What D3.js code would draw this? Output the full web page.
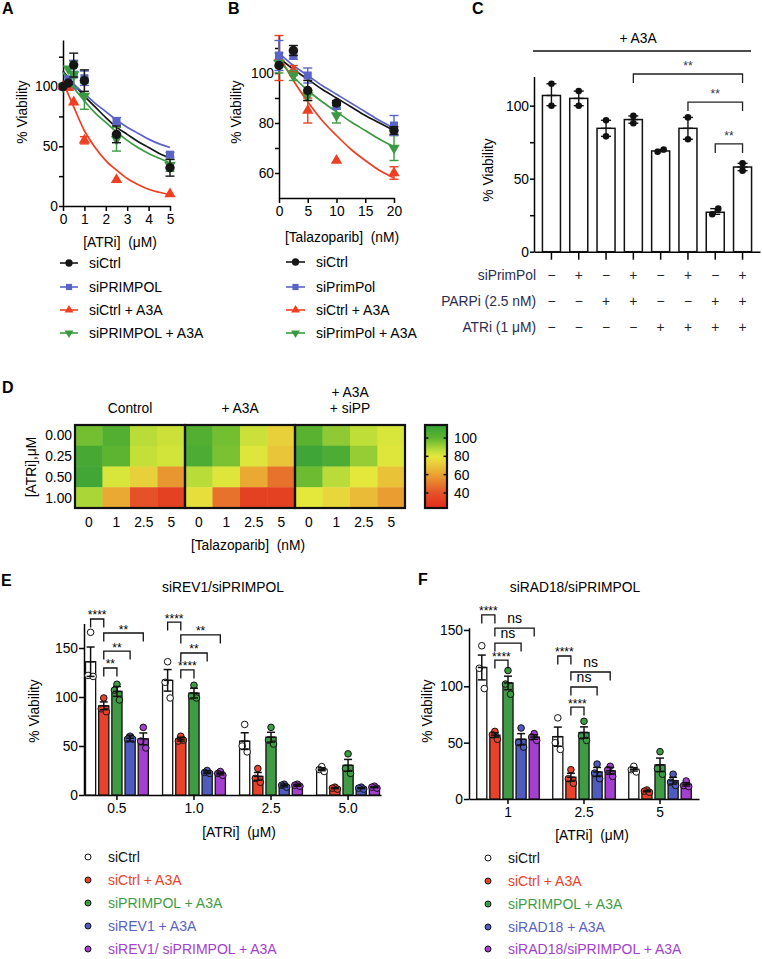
<!DOCTYPE html>
<html><head><meta charset="utf-8">
<script src="https://cdn.jsdelivr.net/npm/d3@7/dist/d3.min.js"></script>
<style>
html,body{margin:0;padding:0;background:#fff;}
text{white-space:pre;}
</style></head><body>
<script>
// ================= DATA =================
// ---- Panel A : ATRi dose response
const aDose = [0, 0.25, 0.5, 1, 2.5, 5];
const aLabels = ["siCtrl", "siPRIMPOL", "siCtrl + A3A", "siPRIMPOL + A3A"];
const aCtrl = [100, 103, 118, 105, 60, 32];
const aCtrlErr = [0, 1, 10, 9, 7, 7];
const aPrim = [100, 106, 110, 107, 71, 43];
const aPrimErr = [0, 2, 12, 6, 3, 2];
const aCtrlA3A = [100, 99, 87, 55, 22, 10];
const aCtrlA3AErr = [0, 0, 0, 3, 0, 0];
const aPrimA3A = [100, 115, 110, 92, 56, 34];
const aPrimA3AErr = [0, 0, 11, 11, 10, 5];
const aFitDose = [0, 0.5, 1, 1.5, 2, 2.5, 3, 3.5, 4, 4.5, 5];
const aFitCtrl = [113, 102, 92, 83, 74, 66, 60, 54, 49, 44, 40];
const aFitPrim = [112, 102, 94, 86, 79, 72, 66, 61, 56, 52, 49];
const aFitCtrlA3A = [104, 83, 63, 49, 38, 30, 23, 18, 14, 11.5, 9.5];
const aFitPrimA3A = [112, 99, 88, 78, 70, 62, 55, 49, 44, 40, 36];
const aXTicks = [0, 1, 2, 3, 4, 5];
const aYTicks = [0, 50, 100];
const aYMinor = [25, 75, 125];

// ---- Panel B : Talazoparib dose response
const bDose = [0, 2.5, 5, 10, 20];
const bLabels = ["siCtrl", "siPrimPol", "siCtrl + A3A", "siPrimPol + A3A"];
const bCtrl = [103, 109, 93, 88, 77];
const bCtrlErr = [0, 2, 4, 1, 1.5];
const bPrim = [107, 107, 99, 87, 79];
const bPrimErr = [6, 1.5, 3, 1.5, 4];
const bCtrlA3A = [106, 101, 85, 65, 60];
const bCtrlA3AErr = [9, 2, 5, 0, 2.5];
const bPrimA3A = [104, 99, 91, 83, 70];
const bPrimA3AErr = [4, 2, 2, 3, 5];
const bFitDose = [0, 2.5, 5, 7.5, 10, 12.5, 15, 17.5, 20];
const bFitCtrl = [106, 101.5, 97.5, 93.5, 90, 86.5, 83, 80, 77];
const bFitPrim = [108, 103, 99, 95, 91.5, 88, 84.5, 81, 78];
const bFitCtrlA3A = [107, 97, 88.5, 81, 75, 69.5, 65, 61, 58];
const bFitPrimA3A = [105, 98.5, 93, 88.5, 84.5, 80.5, 77, 73.5, 70.5];
const bXTicks = [0, 5, 10, 15, 20];
const bYTicks = [60, 80, 100];
const bYMinor = [70, 90, 110];

// ---- Panel C : bar chart + A3A
const cMeans = [107, 105, 84.5, 90.5, 69, 84.5, 27, 58];
const cPoints = [[115, 100], [110, 100], [90, 79], [93, 88], [68.5, 70], [92, 77], [25.6, 29.5], [60.5, 55.5]];
const cRowLabels = ["siPrimPol", "PARPi (2.5 nM)", "ATRi (1 μM)"];
const cSiPrimPol = ["−", "+", "−", "+", "−", "+", "−", "+"];
const cPARPi = ["−", "−", "+", "+", "−", "−", "+", "+"];
const cATRi = ["−", "−", "−", "−", "+", "+", "+", "+"];
const cYTicks = [0, 50, 100];
const cYMinor = [25, 75];
const cBrackets = [[3, 7, "**"], [5, 7, "**"], [6, 7, "**"]];
const cBracketLevel = [121.7, 102.5, 73.8];

// ---- Panel D : heatmap
const dAtri = ["0.00", "0.25", "0.50", "1.00"];
const dTalaz = ["0", "1", "2.5", "5"];
const dBlocks = ["Control", "+ A3A", "+ A3A + siPP"];
const dHeaders = [["Control"], ["+ A3A"], ["+ A3A", "+ siPP"]];
const dControl = [[97, 104, 87, 84], [108, 101, 85, 83], [110, 82, 73, 57], [89, 62, 40, 33]];
const dA3A = [[104, 97, 84, 73], [106, 96, 81, 70], [87, 81, 62, 48], [77, 48, 33, 33]];
const dA3ASiPP = [[102, 93, 86, 82], [111, 106, 92, 81], [98, 87, 80, 69], [80, 75, 67, 59]];
const dBarTicks = [100, 80, 60, 40];
const dStops = [24, 30, 40, 50, 60, 71, 80, 87, 100, 114];
const dColors = ["#e2301f", "#e3381f", "#e5522a", "#e77a2c", "#e9a231", "#e9c93a", "#e4e83b", "#b9dc38", "#5fb52f", "#35a038"];

// ---- Panel E : siREV1/siPRIMPOL
const eDoses = ["0.5", "1.0", "2.5", "5.0"];
const eSeries = ["siCtrl", "siCtrl + A3A", "siPRIMPOL + A3A", "siREV1 + A3A", "siREV1/ siPRIMPOL + A3A"];
const eCtrl = [136, 117, 55, 26.3];
const eCtrlErr = [15, 11, 8.5, 1.5];
const eCtrlPts = [[166, 122, 121], [136, 115, 99], [72, 50, 44], [29, 26, 24]];
const eCtrlA3A = [91, 57, 19, 7];
const eCtrlA3AErr = [4, 2, 4, 0.6];
const eCtrlA3APts = [[99, 88, 85], [60, 55, 56], [27, 17, 13], [8, 7, 6]];
const ePrimA3A = [105.7, 104, 59, 30.3];
const ePrimA3AErr = [5, 5, 5, 6];
const ePrimA3APts = [[113, 107, 97], [112, 101, 99], [69, 56, 52], [42, 27, 22]];
const eRevA3A = [58, 23.3, 9.7, 7];
const eRevA3AErr = [3, 1.5, 1.5, 0.6];
const eRevA3APts = [[60, 57, 57], [25, 23, 22], [11, 10, 8], [8, 7, 6]];
const eRevPrimA3A = [57.3, 22, 10, 8];
const eRevPrimA3AErr = [6, 1.5, 1, 0.6];
const eRevPrimA3APts = [[69, 55, 48], [24, 22, 20], [11, 10, 9], [9, 8, 7]];
const eYTicks = [0, 50, 100, 150];
const eBrackets = [["0.5", 0, 1, "****"], ["0.5", 1, 4, "**"], ["0.5", 1, 3, "**"], ["0.5", 1, 2, "**"],
                   ["1.0", 0, 1, "****"], ["1.0", 1, 4, "**"], ["1.0", 1, 3, "**"], ["1.0", 1, 2, "****"]];
const eBracketLevel = [179.6, 165.3, 146.9, 129.6, 176.5, 163.3, 144.9, 127.6];

// ---- Panel F : siRAD18/siPRIMPOL
const fDoses = ["1", "2.5", "5"];
const fSeries = ["siCtrl", "siCtrl + A3A", "siPRIMPOL + A3A", "siRAD18 + A3A", "siRAD18/siPRIMPOL + A3A"];
const fCtrl = [116.7, 55.3, 26.3];
const fCtrlErr = [11, 8.5, 1.5];
const fCtrlPts = [[136, 116, 98], [72, 50, 44], [29, 26, 24]];
const fCtrlA3A = [56.7, 19.3, 7];
const fCtrlA3AErr = [2, 3.5, 0.6];
const fCtrlA3APts = [[60, 57, 53], [26, 18, 14], [8, 7, 6]];
const fPrimA3A = [103, 59, 30.3];
const fPrimA3AErr = [6, 5, 6];
const fPrimA3APts = [[114, 102, 93], [69, 56, 52], [42, 27, 22]];
const fRadA3A = [53, 24, 16.3];
const fRadA3AErr = [5, 4, 3];
const fRadA3APts = [[63, 50, 46], [31, 23, 18], [22, 15, 12]];
const fRadPrimA3A = [55, 25, 13];
const fRadPrimA3AErr = [2, 3, 1.5];
const fRadPrimA3APts = [[58, 55, 52], [29, 26, 20], [16, 12, 11]];
const fYTicks = [0, 50, 100, 150];
const fBrackets = [["1", 0, 1, "****"], ["1", 1, 4, "ns"], ["1", 1, 3, "ns"], ["1", 1, 2, "****"],
                   ["2.5", 0, 1, "****"], ["2.5", 1, 4, "ns"], ["2.5", 1, 3, "ns"], ["2.5", 1, 2, "****"]];
const fBracketLevel = [163.3, 151.7, 138.4, 123.3, 126.9, 112.7, 99.4, 81.6];

// ================= DRAWING =================
const FONT = '"Liberation Sans", Arial, Helvetica, sans-serif';
const BLACK = "#161616", BLUE = "#5a63c8", RED = "#ee3f23", GREEN = "#3b9a41";
const barColors = ["#ffffff", "#e8432a", "#3f9c45", "#4f5bbf", "#a43fcf"];
const legColors = ["#111111", "#e8432a", "#3f9c45", "#5a5fc4", "#a43fcf"];

const svg = d3.select("body").append("svg").attr("width", 762).attr("height", 959)
  .style("font-family", FONT);

function styleAxis(g, sw = 1.5, fs = 13.8) {
  g.attr("font-size", fs).attr("font-family", FONT);
  g.select(".domain").attr("stroke", "#000").attr("stroke-width", sw);
  g.selectAll(".tick line").attr("stroke", "#000").attr("stroke-width", sw);
  g.selectAll(".tick text").attr("fill", "#000");
}
function txt(x, y, s, opt = {}) {
  const t = svg.append("text").attr("x", x).attr("y", y).text(s)
    .attr("font-size", opt.size || 13.8).attr("fill", opt.fill || "#000")
    .attr("text-anchor", opt.anchor || "start");
  if (opt.bold) t.attr("font-weight", "bold");
  return t;
}
function vlabel(x, y, s, size = 13.8) {
  svg.append("text").attr("transform", `translate(${x},${y}) rotate(-90)`)
    .attr("text-anchor", "middle").attr("font-size", size).text(s);
}
function letter(s, x, y) { txt(x, y, s, { size: 16, bold: true }); }

function yAxis(x0, y, major, minor, size = 4, pad = 1) {
  const g = svg.append("g").attr("transform", `translate(${x0},0)`)
    .call(d3.axisLeft(y).tickValues(major).tickFormat(d => String(d)).tickSize(size).tickPadding(pad).tickSizeOuter(0));
  styleAxis(g);
  if (minor) {
    const gm = svg.append("g").attr("transform", `translate(${x0},0)`)
      .call(d3.axisLeft(y).tickValues(minor).tickSize(size).tickFormat("").tickSizeOuter(0));
    gm.select(".domain").remove(); styleAxis(gm);
  }
}

const symPath = (type, size) => d3.symbol().type(type).size(size)();

// ---------- dose response panels ----------
function doseResponse(cfg) {
  const x = d3.scaleLinear().domain(cfg.xDomain).range(cfg.xRange);
  const y = d3.scaleLinear().domain(cfg.yDomain).range(cfg.yRange);
  yAxis(cfg.xRange[0], y, cfg.yTicks, cfg.yMinor);
  const gx = svg.append("g").attr("transform", `translate(0,${cfg.yRange[0]})`)
    .call(d3.axisBottom(x).tickValues(cfg.xTicks).tickFormat(d => String(d)).tickSize(5).tickPadding(3).tickSizeOuter(0));
  styleAxis(gx);
  const line = d3.line().x(d => x(d[0])).y(d => y(d[1])).curve(d3.curveMonotoneX);
  cfg.series.forEach(s => {
    svg.append("path").datum(d3.zip(cfg.fitX, s.fit)).attr("d", line)
      .attr("fill", "none").attr("stroke", s.color).attr("stroke-width", 1.7);
  });
  cfg.drawOrder.forEach(i => {
    const s = cfg.series[i];
    cfg.dose.forEach((d, k) => {
      const m = s.mean[k], e = s.err[k];
      if (e > 0) {
        const cx = x(d);
        svg.append("line").attr("x1", cx).attr("x2", cx).attr("y1", y(m - e)).attr("y2", y(m + e))
          .attr("stroke", s.color).attr("stroke-width", 1.4);
        [m - e, m + e].forEach(v => svg.append("line").attr("x1", cx - 4.5).attr("x2", cx + 4.5)
          .attr("y1", y(v)).attr("y2", y(v)).attr("stroke", s.color).attr("stroke-width", 1.4));
      }
      svg.append("path").attr("d", symPath(s.sym, s.size))
        .attr("transform", `translate(${x(d)},${y(m)})${s.flip ? " rotate(180)" : ""}`)
        .attr("fill", s.color);
    });
  });
  txt(cfg.titleX, cfg.titleY, cfg.xTitle, { anchor: "middle" });
  cfg.series.forEach((s, i) => {
    const ly = cfg.legY[i];
    svg.append("line").attr("x1", cfg.legX1).attr("x2", cfg.legX2).attr("y1", ly).attr("y2", ly)
      .attr("stroke", s.color).attr("stroke-width", 1.6);
    svg.append("path").attr("d", symPath(s.sym, s.size * 0.6))
      .attr("transform", `translate(${(cfg.legX1 + cfg.legX2) / 2},${ly})${s.flip ? " rotate(180)" : ""}`)
      .attr("fill", s.color);
    txt(cfg.legTX, ly + 5, cfg.labels[i], { size: 14 });
  });
}

letter("A", 2, 14);
doseResponse({
  xDomain: [0, 5], xRange: [63, 170], yDomain: [0, 139], yRange: [206, 40],
  xTicks: aXTicks, yTicks: aYTicks, yMinor: aYMinor,
  dose: aDose, fitX: aFitDose,
  series: [
    { mean: aCtrl, err: aCtrlErr, fit: aFitCtrl, color: BLACK, sym: d3.symbolCircle, size: 70 },
    { mean: aPrim, err: aPrimErr, fit: aFitPrim, color: BLUE, sym: d3.symbolSquare, size: 64 },
    { mean: aCtrlA3A, err: aCtrlA3AErr, fit: aFitCtrlA3A, color: RED, sym: d3.symbolTriangle, size: 56 },
    { mean: aPrimA3A, err: aPrimA3AErr, fit: aFitPrimA3A, color: GREEN, sym: d3.symbolTriangle, size: 56, flip: true }
  ],
  drawOrder: [1, 3, 2, 0],
  xTitle: "[ATRi]  (μM)", titleX: 120, titleY: 247,
  legX1: 60, legX2: 78, legTX: 89, legY: [263, 287, 310, 333], labels: aLabels
});
vlabel(26.5, 112, "% Viability");

letter("B", 228, 14);
doseResponse({
  xDomain: [0, 20], xRange: [279, 394], yDomain: [50, 115], yRange: [198, 35.5],
  xTicks: bXTicks, yTicks: bYTicks, yMinor: bYMinor,
  dose: bDose, fitX: bFitDose,
  series: [
    { mean: bCtrl, err: bCtrlErr, fit: bFitCtrl, color: BLACK, sym: d3.symbolCircle, size: 70 },
    { mean: bPrim, err: bPrimErr, fit: bFitPrim, color: BLUE, sym: d3.symbolSquare, size: 64 },
    { mean: bCtrlA3A, err: bCtrlA3AErr, fit: bFitCtrlA3A, color: RED, sym: d3.symbolTriangle, size: 56 },
    { mean: bPrimA3A, err: bPrimA3AErr, fit: bFitPrimA3A, color: GREEN, sym: d3.symbolTriangle, size: 56, flip: true }
  ],
  drawOrder: [2, 3, 1, 0],
  xTitle: "[Talazoparib]  (nM)", titleX: 342, titleY: 242,
  legX1: 286, legX2: 305, legTX: 316, legY: [262, 287, 310, 333], labels: bLabels
});
vlabel(240.5, 112, "% Viability");

// ---------- Panel C ----------
letter("C", 472, 14);
(function () {
  const idx = d3.range(cMeans.length);
  const x = d3.scaleBand().domain(idx).range([534, 760]).paddingInner(0.34).paddingOuter(0.309);
  const y = d3.scaleLinear().domain([0, 120]).range([251.7, 76.5]);
  yAxis(534, y, cYTicks, cYMinor);
  const gx = svg.append("g").attr("transform", "translate(0,251.7)")
    .call(d3.axisBottom(x).tickSize(8).tickFormat("").tickSizeOuter(0));
  styleAxis(gx);
  idx.forEach(i => {
    svg.append("rect").attr("x", x(i)).attr("y", y(cMeans[i])).attr("width", x.bandwidth())
      .attr("height", y(0) - y(cMeans[i])).attr("fill", "#fff").attr("stroke", "#111").attr("stroke-width", 1.5);
  });
  idx.forEach(i => {
    const cx = x(i) + x.bandwidth() / 2;
    const lo = d3.min(cPoints[i]), hi = d3.max(cPoints[i]);
    svg.append("line").attr("x1", cx).attr("x2", cx).attr("y1", y(lo)).attr("y2", y(hi)).attr("stroke", "#111").attr("stroke-width", 1.4);
    [lo, hi].forEach(v => svg.append("line").attr("x1", cx - 5).attr("x2", cx + 5).attr("y1", y(v)).attr("y2", y(v)).attr("stroke", "#111").attr("stroke-width", 1.4));
    svg.append("line").attr("x1", cx - 5).attr("x2", cx + 5).attr("y1", y(cMeans[i])).attr("y2", y(cMeans[i])).attr("stroke", "#111").attr("stroke-width", 1.4);
    const close = Math.abs(cPoints[i][0] - cPoints[i][1]) < 4;
    cPoints[i].forEach((v, k) => svg.append("circle").attr("cx", cx + (close ? (k ? 3 : -3) : 0))
      .attr("cy", y(v)).attr("r", 3.3).attr("fill", "#111"));
  });
  svg.append("line").attr("x1", 533).attr("x2", 751).attr("y1", 51).attr("y2", 51).attr("stroke", "#111").attr("stroke-width", 1.5);
  txt(638, 43, "+ A3A", { anchor: "middle" });
  cBrackets.forEach((b, j) => {
    const x1 = x(b[0]) + x.bandwidth() / 2, x2 = x(b[1]) + x.bandwidth() / 2, yt = y(cBracketLevel[j]);
    svg.append("path").attr("d", `M${x1},${yt + 9}V${yt}H${x2}V${yt + 9}`).attr("fill", "none").attr("stroke", "#222").attr("stroke-width", 1.3);
    txt((x1 + x2) / 2, yt - 4, b[2], { anchor: "middle", size: 12, fill: "#2e3350" });
  });
  vlabel(492.5, 170, "% Viability");
  const rows = [cSiPrimPol, cPARPi, cATRi], rowY = [280, 306, 332];
  rows.forEach((r, ri) => {
    txt(536, rowY[ri], cRowLabels[ri], { anchor: "end", fill: "#2b2d4e" });
    r.forEach((s, i) => txt(x(i) + x.bandwidth() / 2, rowY[ri], s, { anchor: "middle", fill: "#222" }));
  });
})();

// ---------- Panel D heatmap ----------
letter("D", 2, 393);
(function () {
  const hBlock = d3.scaleBand().domain(dBlocks).range([75, 405]);
  const hCol = d3.scaleBand().domain(dTalaz).range([0, hBlock.bandwidth()]);
  const hRow = d3.scaleBand().domain(dAtri).range([425, 508]);
  const color = d3.scaleLinear().domain(dStops).range(dColors).clamp(true);
  [dControl, dA3A, dA3ASiPP].forEach((m, bi) => {
    const b = dBlocks[bi];
    m.forEach((row, ri) => row.forEach((v, ci) => {
      svg.append("rect").attr("x", hBlock(b) + hCol(dTalaz[ci])).attr("y", hRow(dAtri[ri]))
        .attr("width", hCol.bandwidth() + 0.4).attr("height", hRow.bandwidth() + 0.4).attr("fill", color(v));
    }));
    dTalaz.forEach(t => txt(hBlock(b) + hCol(t) + hCol.bandwidth() / 2, 527, t, { anchor: "middle" }));
    const hs = dHeaders[bi];
    hs.forEach((h, k) => txt(hBlock(b) + hBlock.bandwidth() / 2, 413 - (hs.length - 1 - k) * 16, h, { anchor: "middle" }));
  });
  dBlocks.forEach(b => svg.append("rect").attr("x", hBlock(b)).attr("y", 425).attr("width", hBlock.bandwidth())
    .attr("height", 83).attr("fill", "none").attr("stroke", "#111").attr("stroke-width", 2.2));
  dAtri.forEach(a => txt(72, hRow(a) + hRow.bandwidth() / 2 + 5, a, { anchor: "end" }));
  vlabel(35.5, 467, "[ATRi],μM");
  txt(248, 550, "[Talazoparib]  (nM)", { anchor: "middle" });
  const cb = d3.scaleLinear().domain([23.6, 114.2]).range([508, 425]);
  const grad = svg.append("defs").append("linearGradient").attr("id", "cbgrad")
    .attr("x1", 0).attr("x2", 0).attr("y1", 1).attr("y2", 0);
  dStops.forEach(v => grad.append("stop").attr("offset", (v - 23.6) / (114.2 - 23.6)).attr("stop-color", color(v)));
  svg.append("rect").attr("x", 425).attr("y", 425).attr("width", 22).attr("height", 83)
    .attr("fill", "url(#cbgrad)").attr("stroke", "#111").attr("stroke-width", 2.2);
  dBarTicks.forEach(v => {
    svg.append("line").attr("x1", 425).attr("x2", 428.5).attr("y1", cb(v)).attr("y2", cb(v)).attr("stroke", "#111").attr("stroke-width", 1.5);
    svg.append("line").attr("x1", 443.5).attr("x2", 447).attr("y1", cb(v)).attr("y2", cb(v)).attr("stroke", "#111").attr("stroke-width", 1.5);
    txt(454, cb(v) + 5, String(v));
  });
})();

// ---------- grouped bar panels ----------
function grouped(cfg) {
  const x0 = d3.scaleBand().domain(cfg.doses).range(cfg.xRange).paddingInner(cfg.pi).paddingOuter(cfg.po);
  const sIdx = d3.range(cfg.series.length);
  const x1 = d3.scaleBand().domain(sIdx).range([0, x0.bandwidth()]).paddingInner(0.23).paddingOuter(0.115);
  const y = d3.scaleLinear().domain(cfg.yDomain).range(cfg.yRange);
  yAxis(cfg.xRange[0], y, cfg.yTicks, null, 5, 1);
  const gx = svg.append("g").attr("transform", `translate(0,${cfg.yRange[0]})`)
    .call(d3.axisBottom(x0).tickSize(5).tickPadding(3).tickSizeOuter(0));
  styleAxis(gx);
  const cxOf = (d, s) => x0(d) + x1(s) + x1.bandwidth() / 2;
  const jit = [0, -2.5, 2.5];
  cfg.doses.forEach((d, di) => {
    sIdx.forEach(s => {
      const m = cfg.means[s][di];
      svg.append("rect").attr("x", x0(d) + x1(s)).attr("y", y(m)).attr("width", x1.bandwidth())
        .attr("height", y(0) - y(m)).attr("fill", barColors[s]).attr("stroke", "#111").attr("stroke-width", 1.3);
    });
    sIdx.forEach(s => {
      const cx = cxOf(d, s);
      cfg.pts[s][di].forEach((v, k) => svg.append("circle").attr("cx", cx + jit[k]).attr("cy", y(v)).attr("r", 3.3)
        .attr("fill", barColors[s]).attr("stroke", "#111").attr("stroke-width", 1));
      const m = cfg.means[s][di], e = cfg.errs[s][di];
      svg.append("line").attr("x1", cx).attr("x2", cx).attr("y1", y(m - e)).attr("y2", y(m + e)).attr("stroke", "#111").attr("stroke-width", 1.5);
      [m - e, m, m + e].forEach(v => svg.append("line").attr("x1", cx - 4).attr("x2", cx + 4).attr("y1", y(v)).attr("y2", y(v)).attr("stroke", "#111").attr("stroke-width", 1.5));
    });
  });
  cfg.brackets.forEach((b, j) => {
    const xa = cxOf(b[0], b[1]), xb = cxOf(b[0], b[2]), yt = y(cfg.levels[j]);
    svg.append("path").attr("d", `M${xa},${yt + 8.5}V${yt}H${xb}V${yt + 8.5}`).attr("fill", "none").attr("stroke", "#111").attr("stroke-width", 1.3);
    const ns = b[3] === "ns";
    txt((xa + xb) / 2, ns ? yt - 5 : yt + 0.5, b[3], { anchor: "middle", size: ns ? 14 : 12 });
  });
  txt(cfg.titleX, 592, cfg.title, { anchor: "middle" });
  vlabel(cfg.ylabX, 711, "% Viability");
  txt(cfg.xtX, cfg.xtY, "[ATRi]  (μM)", { anchor: "middle" });
  cfg.series.forEach((s, i) => {
    const ly = cfg.legY[i];
    svg.append("circle").attr("cx", cfg.legX).attr("cy", ly).attr("r", 3).attr("fill", barColors[i]).attr("stroke", "#111").attr("stroke-width", 1);
    txt(cfg.legTX, ly + 4.5, s, { fill: legColors[i], size: 14 });
  });
}

letter("E", 1, 586);
grouped({
  doses: eDoses, series: eSeries, xRange: [84, 381], pi: 0.145, po: 0,
  yDomain: [0, 175], yRange: [795, 623.5], yTicks: eYTicks,
  means: [eCtrl, eCtrlA3A, ePrimA3A, eRevA3A, eRevPrimA3A],
  errs: [eCtrlErr, eCtrlA3AErr, ePrimA3AErr, eRevA3AErr, eRevPrimA3AErr],
  pts: [eCtrlPts, eCtrlA3APts, ePrimA3APts, eRevA3APts, eRevPrimA3APts],
  brackets: eBrackets, levels: eBracketLevel,
  title: "siREV1/siPRIMPOL", titleX: 223, ylabX: 38.5, xtX: 239, xtY: 837,
  legX: 88, legTX: 108, legY: [857, 880, 903, 926, 949]
});

letter("F", 418, 585);
grouped({
  doses: fDoses, series: fSeries, xRange: [469, 699], pi: 0.138, po: 0.082,
  yDomain: [0, 152], yRange: [799, 627.7], yTicks: fYTicks,
  means: [fCtrl, fCtrlA3A, fPrimA3A, fRadA3A, fRadPrimA3A],
  errs: [fCtrlErr, fCtrlA3AErr, fPrimA3AErr, fRadA3AErr, fRadPrimA3AErr],
  pts: [fCtrlPts, fCtrlA3APts, fPrimA3APts, fRadA3APts, fRadPrimA3APts],
  brackets: fBrackets, levels: fBracketLevel,
  title: "siRAD18/siPRIMPOL", titleX: 575, ylabX: 432, xtX: 592, xtY: 840,
  legX: 488, legTX: 508, legY: [858, 881, 904, 927, 949]
});
</script>
</body></html>
